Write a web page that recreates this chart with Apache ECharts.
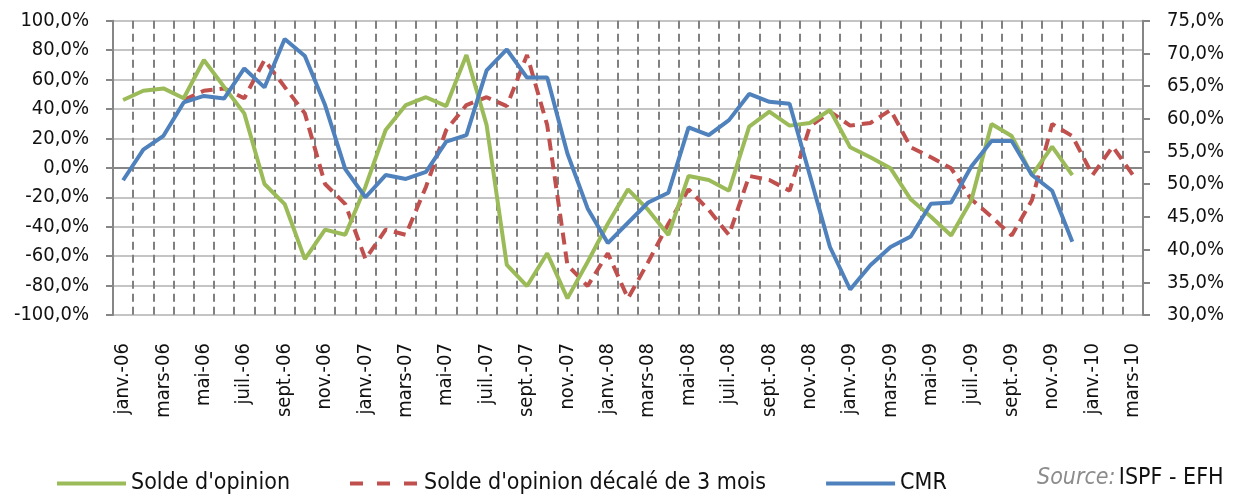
<!DOCTYPE html>
<html>
<head>
<meta charset="utf-8">
<script src="https://cdn.jsdelivr.net/npm/echarts@6/dist/echarts.min.js"></script>
<style>
html,body{margin:0;padding:0;background:#fff;}
#chart{width:1243px;height:495px;}
</style>
</head>
<body>
<div id="chart"></div>
<script>
const categories = [
 "janv.-06","févr.-06","mars-06","avr.-06","mai-06","juin-06","juil.-06","août-06","sept.-06","oct.-06","nov.-06","déc.-06",
 "janv.-07","févr.-07","mars-07","avr.-07","mai-07","juin-07","juil.-07","août-07","sept.-07","oct.-07","nov.-07","déc.-07",
 "janv.-08","févr.-08","mars-08","avr.-08","mai-08","juin-08","juil.-08","août-08","sept.-08","oct.-08","nov.-08","déc.-08",
 "janv.-09","févr.-09","mars-09","avr.-09","mai-09","juin-09","juil.-09","août-09","sept.-09","oct.-09","nov.-09","déc.-09",
 "janv.-10","févr.-10","mars-10"
];
const soldeOpinion = [46.1,52.4,54.0,47.3,73.3,55.0,37.0,-11.0,-24.6,-62.0,-42.0,-45.5,
 -12.8,25.7,42.7,48.0,42.0,76.7,29.0,-66.0,-80.3,-58.0,-88.7,-64.0,
 -38.0,-14.6,-28.6,-45.6,-5.5,-8.3,-15.5,28.0,38.2,28.7,30.5,39.3,
 14.0,7.2,-0.3,-21.4,-33.2,-46.0,-22.0,29.8,21.6,-4.9,14.4,-4.9];
const soldeDecale = [null,null,null,46.1,52.4,54.0,47.3,73.3,55.0,37.0,-11.0,-24.6,
 -62.0,-42.0,-45.5,-12.8,25.7,42.7,48.0,42.0,76.7,29.0,-66.0,-80.3,
 -58.0,-88.7,-64.0,-38.0,-14.6,-28.6,-45.6,-5.5,-8.3,-15.5,28.0,38.2,
 28.7,30.5,39.3,14.0,7.2,-0.3,-21.4,-33.2,-46.0,-22.0,29.8,21.6,
 -4.9,14.4,-4.9];
const cmr = [50.6,55.3,57.4,62.5,63.5,63.1,67.7,64.8,72.2,69.6,62.1,52.3,
 48.0,51.4,50.8,51.9,56.5,57.5,67.4,70.6,66.3,66.3,54.7,46.3,
 41.0,44.1,47.2,48.7,58.7,57.5,59.8,63.8,62.6,62.3,51.4,40.4,
 33.9,37.6,40.4,42.0,47.0,47.2,52.7,56.6,56.6,51.4,49.0,41.2];
const seriesNames = ["Solde d'opinion","Solde d'opinion décalé de 3 mois","CMR"];

const FONT = '"DejaVu Sans Condensed","DejaVu Sans",sans-serif';
const AX = '#868686';
const fmt = v => v.toFixed(1).replace('.', ',') + '%';

const chart = echarts.init(document.getElementById('chart'));
chart.setOption({
  animation: false,
  backgroundColor: '#fff',
  textStyle: {fontFamily: FONT},
  grid: {left: 113, right: 100, top: 20.7, bottom: 180, containLabel: false},
  xAxis: {
    type: 'category', data: categories, boundaryGap: true,
    axisLine: {lineStyle: {color: AX, width: 2}},
    axisTick: {show: false},
    axisLabel: {interval: 1, rotate: 90, margin: 28, fontSize: 20, color: '#111', fontFamily: FONT},
    splitLine: {show: true, interval: 0, lineStyle: {color: '#808080', width: 2, type: [8, 5]}}
  },
  yAxis: [
    {type: 'value', min: -100, max: 100, interval: 20, position: 'left',
     axisLine: {show: true, lineStyle: {color: AX, width: 2}},
     axisTick: {show: true, length: 7, lineStyle: {color: AX, width: 2}},
     axisLabel: {formatter: fmt, fontSize: 20, color: '#111', margin: 24, fontFamily: FONT},
     splitLine: {show: true, lineStyle: {color: '#c4c4c4', width: 2}}},
    {type: 'value', min: 30, max: 75, interval: 5, position: 'right',
     axisLine: {show: true, lineStyle: {color: AX, width: 2}},
     axisTick: {show: true, length: 7, lineStyle: {color: AX, width: 2}},
     axisLabel: {formatter: fmt, fontSize: 20, color: '#111', margin: 24, fontFamily: FONT},
     splitLine: {show: false}}
  ],
  legend: {
    left: 50, top: 467, itemGap: 58, itemWidth: 69, itemHeight: 14,
    itemStyle: {opacity: 0},
    textStyle: {fontSize: 23, color: '#111', fontFamily: FONT},
    data: [
      {name: seriesNames[0], lineStyle: {width: 4}},
      {name: seriesNames[1], lineStyle: {width: 4, type: [13, 14]}},
      {name: seriesNames[2], lineStyle: {width: 4}}
    ]
  },
  graphic: [{
    type: 'text', left: 1037, top: 467,
    style: {
      text: '{a|Source:} {b|ISPF - EFH}',
      rich: {
        a: {fontSize: 23, fontStyle: 'italic', fill: '#8c8c8c', fontFamily: FONT},
        b: {fontSize: 23, fill: '#111', fontFamily: FONT}
      }
    }
  }],
  series: [
    {name: seriesNames[0], type: 'line', data: soldeOpinion, yAxisIndex: 0, showSymbol: false, symbol: 'none',
     color: '#9BBB59', lineStyle: {color: '#9BBB59', width: 4}, z: 3},
    {name: seriesNames[1], type: 'line', data: soldeDecale, yAxisIndex: 0, showSymbol: false, symbol: 'none',
     color: '#C0504D', lineStyle: {color: '#C0504D', width: 4, type: [12, 7]}, z: 2},
    {name: seriesNames[2], type: 'line', data: cmr, yAxisIndex: 1, showSymbol: false, symbol: 'none',
     color: '#4F81BD', lineStyle: {color: '#4F81BD', width: 4}, z: 4}
  ]
});
</script>
</body>
</html>
